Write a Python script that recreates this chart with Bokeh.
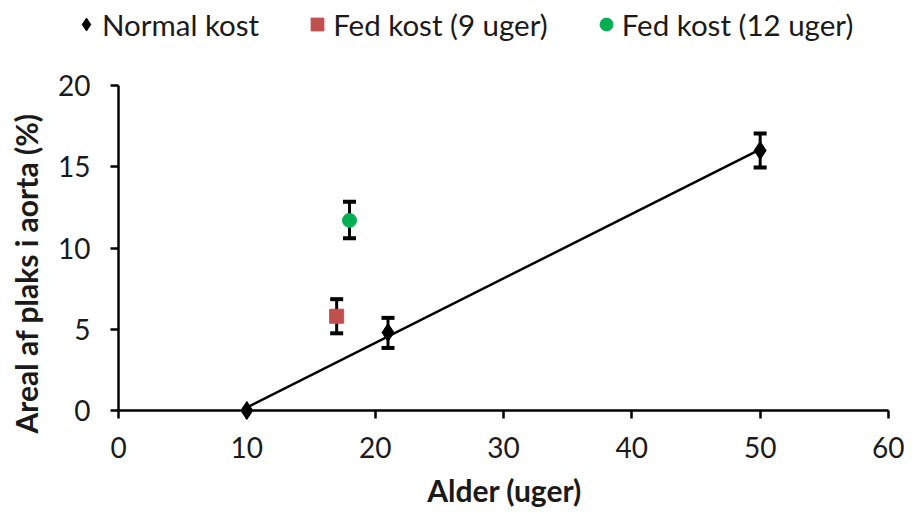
import math
import numpy as np
from bokeh.plotting import figure
from bokeh.models import (ColumnDataSource, Whisker, TeeHead, Legend, LegendItem,
                          FixedTicker, Range1d, Label)
from bokeh.embed import file_html
from bokeh.resources import INLINE

# Data
normal_x = [10, 21, 50]
normal_y = [0.0, 4.8, 16.0]
normal_lo = [0.0, 3.85, 14.95]
normal_hi = [0.0, 5.7, 17.05]

fed9_x = [17]
fed9_y = [5.8]
fed9_lo = [4.75]
fed9_hi = [6.85]

fed12_x = [18]
fed12_y = [11.7]
fed12_lo = [10.6]
fed12_hi = [12.85]

x_ticks = [0, 10, 20, 30, 40, 50, 60]
y_ticks = [0, 5, 10, 15, 20]

FONT = "Lato"
TXT = "#1a1a1a"
W, H = 904, 507

# layout (screen pixels) of the data area inside the full-size frame
X0_PX, X60_PX = 118, 888
Y0_PX, Y20_PX = 410, 85
xs = (X60_PX - X0_PX) / 60.0
ys = (Y0_PX - Y20_PX) / 20.0

p = figure(width=W, height=H, output_backend="svg", toolbar_location=None,
           x_range=Range1d(-X0_PX / xs, 60 + (W - X60_PX) / xs),
           y_range=Range1d(-(H - Y0_PX) / ys, 20 + Y20_PX / ys),
           min_border_left=0, min_border_right=0, min_border_top=0, min_border_bottom=0)
p.outline_line_color = None
p.xgrid.visible = False
p.ygrid.visible = False
p.background_fill_color = "white"
p.border_fill_color = "white"

for ax in (p.xaxis[0], p.yaxis[0]):
    ax.axis_line_width = 2.5
    ax.axis_line_color = "black"
    ax.major_tick_line_width = 2.5
    ax.major_tick_line_color = "black"
    ax.major_tick_out = 8
    ax.major_tick_in = 0
    ax.minor_tick_line_color = None
    ax.major_label_text_font = FONT
    ax.major_label_text_font_size = "28px"
    ax.major_label_text_color = TXT

p.xaxis.ticker = FixedTicker(ticks=x_ticks)
p.yaxis.ticker = FixedTicker(ticks=y_ticks)
p.xaxis.bounds = (0, 60)
p.yaxis.bounds = (0, 20)
p.xaxis.fixed_location = 0
p.yaxis.fixed_location = 0
p.xaxis.major_label_standoff = 18
p.yaxis.major_label_standoff = 20

# axis titles
p.add_layout(Label(x=504, y=H - 489, x_units="screen", y_units="screen",
                   text="Alder (uger)", text_font=FONT, text_font_size="30px",
                   text_font_style="bold", text_color=TXT,
                   text_align="center", text_baseline="middle"))
p.add_layout(Label(x=25, y=H - 273, x_units="screen", y_units="screen",
                   angle=math.pi / 2,
                   text="Areal af plaks i aorta (%)", text_font=FONT, text_font_size="30px",
                   text_font_style="bold", text_color=TXT,
                   text_align="center", text_baseline="middle"))

# Trend line from linear fit of normal series
coef = np.polyfit(normal_x, normal_y, 1)
tx = [min(normal_x), max(normal_x)]
ty = [coef[0] * v + coef[1] for v in tx]
p.line(tx, ty, line_color="black", line_width=2.5)

# Error bars
def add_err(xv, lo, hi):
    keep = [i for i in range(len(xv)) if hi[i] > lo[i]]
    src = ColumnDataSource(dict(x=[xv[i] for i in keep],
                                lo=[lo[i] for i in keep],
                                hi=[hi[i] for i in keep]))
    w = Whisker(base="x", lower="lo", upper="hi", source=src, dimension="height",
                line_color="black", line_width=3,
                upper_head=TeeHead(size=13, line_width=4, line_color="black"),
                lower_head=TeeHead(size=13, line_width=4, line_color="black"))
    p.add_layout(w)

add_err(normal_x, normal_lo, normal_hi)
add_err(fed9_x, fed9_lo, fed9_hi)
add_err(fed12_x, fed12_lo, fed12_hi)

r1 = p.scatter(normal_x, normal_y, marker="diamond", size=18, color="black")
r2 = p.scatter(fed9_x, fed9_y, marker="square", size=14, color="#C0504D")
r3 = p.scatter(fed12_x, fed12_y, marker="circle", size=14, color="#00B050")

legend = Legend(items=[LegendItem(label="Normal kost", renderers=[r1]),
                       LegendItem(label="Fed kost (9 uger)", renderers=[r2]),
                       LegendItem(label="Fed kost (12 uger)", renderers=[r3])],
                orientation="horizontal", location=(70, H - 42),
                label_text_font=FONT, label_text_font_size="29.5px",
                label_text_color=TXT, label_text_baseline="middle",
                border_line_color=None, background_fill_alpha=0,
                spacing=42, glyph_width=32, glyph_height=36, label_standoff=0,
                padding=0, margin=0)
p.add_layout(legend, "center")

open("out.html", "w").write(file_html(p, INLINE))
